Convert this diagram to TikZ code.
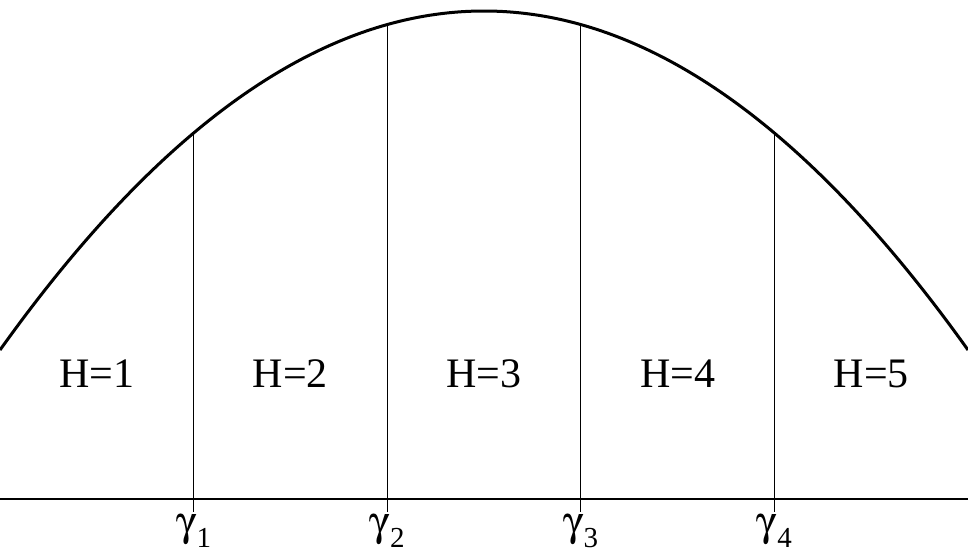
\documentclass[tikz,border=0pt]{standalone}
\usepackage[Symbol]{upgreek}
\usepackage{fontspec}
\setmainfont{Liberation Serif}
\newcommand{\gsub}[1]{$\upgamma$\raisebox{-12pt}{\fontsize{29}{30}\selectfont #1}}
\begin{document}
\begin{tikzpicture}[x=1pt,y=-1pt,
  curveline/.style={line width=3pt},
  thinline/.style={line width=0.9pt},
  axisline/.style={line width=1.3pt},
  reglabel/.style={font=\fontsize{42}{50}\selectfont, inner sep=0pt},
  gamlabel/.style={font=\fontsize{42}{50}\selectfont, inner sep=0pt, anchor=base}]
\useasboundingbox (0,0) rectangle (968,549);
% curve: y = 11 + 339*((x-484)/484)^2
\coordinate (L) at (0,350);
\coordinate (R) at (968,350);
\coordinate (c1) at (322.667,-102);
\coordinate (c2) at (645.333,-102);
\draw[curveline] (L) .. controls (c1) and (c2) .. (R);
% axis
\coordinate (a0) at (0,499);
\coordinate (a1) at (968,499);
\draw[axisline] (a0) -- (a1);
% vertical lines
\foreach \i/\x in {1/193.6,2/387.2,3/580.8,4/774.4}{
  \pgfmathsetmacro{\yc}{11+339*((\x-484)/484)^2}
  \coordinate (t\i) at (\x,\yc);
  \coordinate (b\i) at (\x,512);
  \draw[thinline] (t\i) -- (b\i);
  \node[gamlabel] (g\i) at (\x,535) {\gsub{\i}};
}
% region labels
\foreach \i/\x in {1/96.8,2/290.4,3/484,4/677.6,5/871.2}{
  \node[reglabel] (h\i) at (\x,374) {H=\i};
}
\end{tikzpicture}
\end{document}
